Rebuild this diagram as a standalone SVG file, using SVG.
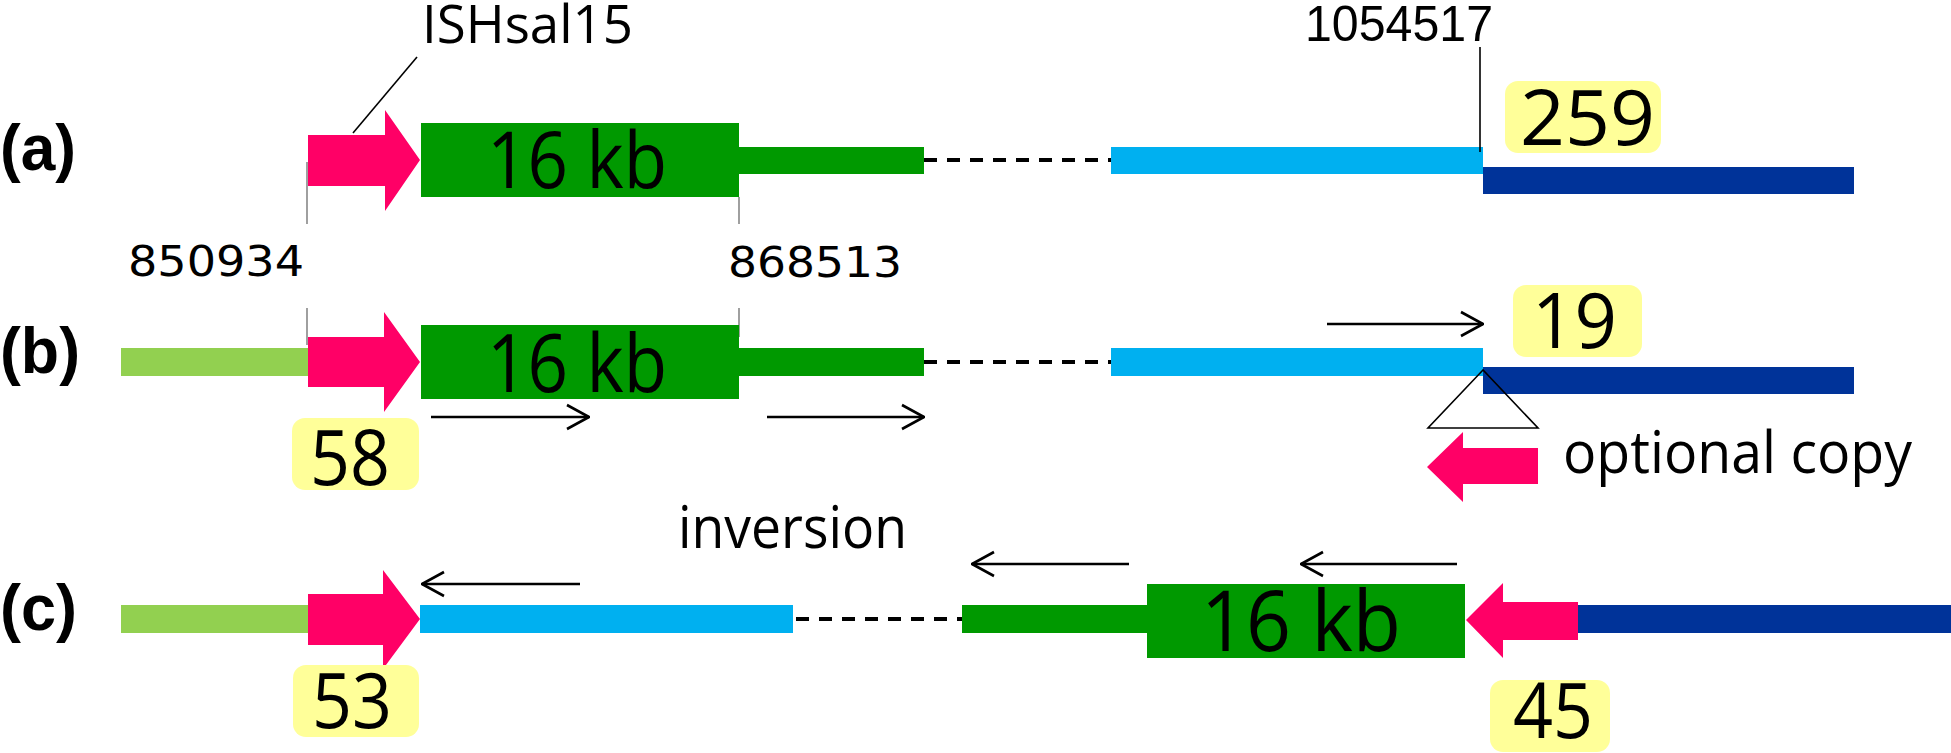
<svg xmlns="http://www.w3.org/2000/svg" width="1951" height="753" viewBox="0 0 1951 753">
<style>
.pink{fill:#FF0066}
.green{fill:#009900}
.lgreen{fill:#92D050}
.cyan{fill:#00B0F0}
.navy{fill:#003399}
.yel{fill:#FFFF99}
.tick{stroke:#888888;stroke-width:1.6;fill:none}
.lead{stroke:#000;stroke-width:1.6;fill:none}
.dash{stroke:#000;stroke-width:4;stroke-dasharray:13 10;fill:none}
.arr{stroke:#000;stroke-width:2.6;fill:none;marker-end:url(#chev)}
.lab{font-family:"Liberation Sans",Arial,sans-serif;font-weight:bold;font-size:64px;fill:#000}
.t{font-family:"Open Sans","Noto Sans",sans-serif;fill:#000}
.num{font-family:"DejaVu Sans",sans-serif;font-size:43px;fill:#000}
.ar{font-family:"Liberation Sans",Arial,sans-serif;font-size:50px;fill:#000}
</style>
<defs>
<marker id="chev" viewBox="0 0 24 28" markerWidth="24" markerHeight="28" refX="23" refY="14" orient="auto" markerUnits="userSpaceOnUse">
<path d="M1,2 L23,14 L1,26" fill="none" stroke="#000" stroke-width="2.6"/>
</marker>
</defs>

<!-- row labels -->
<g id="label-a"><text class="lab" x="0" y="170" textLength="76" lengthAdjust="spacingAndGlyphs">(a)</text></g>
<g id="label-b"><text class="lab" x="0" y="373" textLength="80" lengthAdjust="spacingAndGlyphs">(b)</text></g>
<g id="label-c"><text class="lab" x="0" y="630" textLength="77" lengthAdjust="spacingAndGlyphs">(c)</text></g>

<!-- ticks -->
<g id="ticks">
<line class="tick" x1="307" y1="162" x2="307" y2="224"/>
<line class="tick" x1="739" y1="197" x2="739" y2="224"/>
<line class="tick" x1="307" y1="308" x2="307" y2="345"/>
<line class="tick" x1="739" y1="308" x2="739" y2="337"/>
</g>

<!-- coordinate labels -->
<g id="ishsal15-label"><text class="t" x="422" y="43" font-size="53" textLength="211" lengthAdjust="spacingAndGlyphs">ISHsal15</text></g>
<g id="pos-1054517"><text class="ar" x="1305" y="41" textLength="188" lengthAdjust="spacingAndGlyphs">1054517</text></g>
<g id="pos-850934"><text class="num" x="128" y="276" textLength="176" lengthAdjust="spacingAndGlyphs">850934</text></g>
<g id="pos-868513"><text class="num" x="728" y="277" textLength="174" lengthAdjust="spacingAndGlyphs">868513</text></g>

<!-- row (a) -->
<g id="a-is"><path class="pink" d="M308,135 H385 V110 L420,160 L385,211 V186 H308 Z"/></g>
<g id="a-16kb"><rect class="green" x="421" y="123" width="318" height="74"/><text class="t" x="487" y="188" font-size="79" textLength="180" lengthAdjust="spacingAndGlyphs">16 kb</text></g>
<g id="a-greenline"><rect class="green" x="739" y="147" width="185" height="27"/></g>
<g id="a-cyan"><rect class="cyan" x="1111" y="147" width="372" height="27"/></g>
<g id="a-navy"><rect class="navy" x="1483" y="167" width="371" height="27"/></g>
<g id="a-259"><rect class="yel" x="1505" y="81" width="156" height="72" rx="13"/><text class="t" x="1520" y="145" font-size="77" textLength="135" lengthAdjust="spacingAndGlyphs">259</text></g>

<!-- row (b) -->
<g id="b-lgreen"><rect class="lgreen" x="121" y="348" width="187" height="28"/></g>
<g id="b-is"><path class="pink" d="M308,337 H384 V312 L420,362 L384,412 V387 H308 Z"/></g>
<g id="b-16kb"><rect class="green" x="421" y="325" width="318" height="74"/><text class="t" x="487" y="392" font-size="81" textLength="180" lengthAdjust="spacingAndGlyphs">16 kb</text></g>
<g id="b-greenline"><rect class="green" x="739" y="348" width="185" height="28"/></g>
<g id="b-cyan"><rect class="cyan" x="1111" y="348" width="372" height="28"/></g>
<g id="b-navy"><rect class="navy" x="1483" y="367" width="371" height="27"/></g>
<g id="b-19"><rect class="yel" x="1513" y="285" width="129" height="72" rx="13"/><text class="t" x="1532" y="348" font-size="77" textLength="85" lengthAdjust="spacingAndGlyphs">19</text></g>
<g id="b-58"><rect class="yel" x="292" y="418" width="127" height="72" rx="13"/><text class="t" x="310" y="485" font-size="77" textLength="80" lengthAdjust="spacingAndGlyphs">58</text></g>
<g id="b-insertion"><polygon points="1483,370 1428,428 1538,428" fill="none" stroke="#000" stroke-width="1.6"/></g>
<g id="b-optional-is"><path class="pink" d="M1538,448 H1463 V432 L1427,467 L1463,502 V484 H1538 Z"/></g>
<g id="b-optional-label"><text class="t" x="1563" y="473" font-size="58" textLength="349" lengthAdjust="spacingAndGlyphs">optional copy</text></g>

<!-- row (c) -->
<g id="inversion-label"><text class="t" x="678" y="548" font-size="58" textLength="229" lengthAdjust="spacingAndGlyphs">inversion</text></g>
<g id="c-lgreen"><rect class="lgreen" x="121" y="605" width="187" height="28"/></g>
<g id="c-is-left"><path class="pink" d="M308,594 H383 V570 L420,619 L383,669 V645 H308 Z"/></g>
<g id="c-cyan"><rect class="cyan" x="420" y="605" width="373" height="28"/></g>
<g id="c-greenline"><rect class="green" x="962" y="605" width="185" height="28"/></g>
<g id="c-16kb"><rect class="green" x="1147" y="584" width="318" height="74"/><text class="t" x="1201" y="651" font-size="84" textLength="200" lengthAdjust="spacingAndGlyphs">16 kb</text></g>
<g id="c-is-right"><path class="pink" d="M1578,602 H1503 V583 L1466,620 L1503,658 V640 H1578 Z"/></g>
<g id="c-navy"><rect class="navy" x="1578" y="605" width="373" height="28"/></g>
<g id="c-53"><rect class="yel" x="293" y="665" width="126" height="72" rx="13"/><text class="t" x="312" y="728" font-size="77" textLength="80" lengthAdjust="spacingAndGlyphs">53</text></g>
<g id="c-45"><rect class="yel" x="1490" y="680" width="120" height="72" rx="13"/><text class="t" x="1513" y="738" font-size="77" textLength="80" lengthAdjust="spacingAndGlyphs">45</text></g>

<!-- connectors -->
<g id="connectors">
<line class="lead" x1="417" y1="57" x2="353" y2="133"/>
<line class="lead" x1="1480" y1="47" x2="1480" y2="152"/>
<line class="dash" x1="924" y1="160" x2="1111" y2="160"/>
<line class="dash" x1="924" y1="362" x2="1111" y2="362"/>
<line class="dash" x1="796" y1="619" x2="962" y2="619"/>
<line class="arr" x1="1327" y1="324" x2="1483" y2="324"/>
<line class="arr" x1="431" y1="417" x2="589" y2="417"/>
<line class="arr" x1="767" y1="417" x2="924" y2="417"/>
<line class="arr" x1="580" y1="584" x2="422" y2="584"/>
<line class="arr" x1="1129" y1="564" x2="972" y2="564"/>
<line class="arr" x1="1457" y1="564" x2="1301" y2="564"/>
</g>
</svg>
